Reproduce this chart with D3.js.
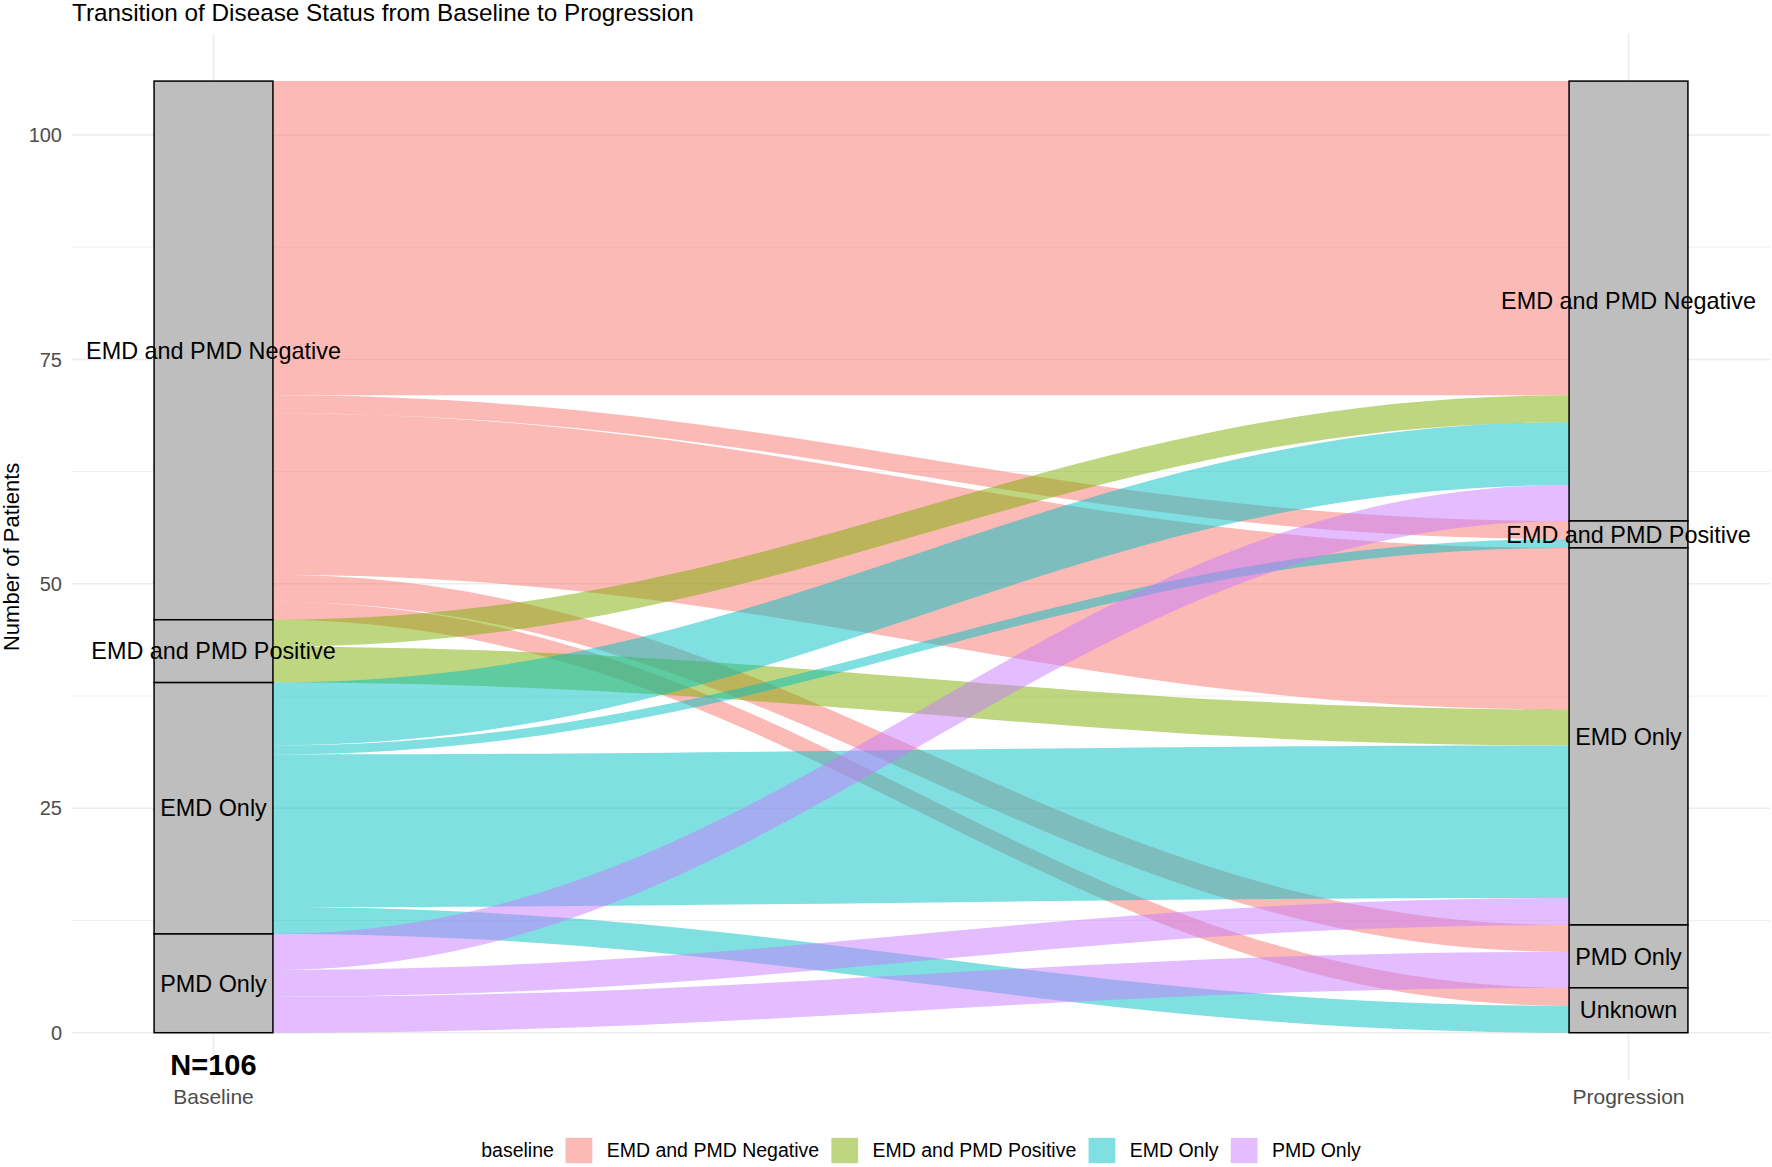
<!DOCTYPE html>
<html>
<head>
<meta charset="utf-8">
<script src="https://cdn.jsdelivr.net/npm/d3@7"></script>
<style>
  html, body { margin: 0; padding: 0; background: #fff; }
  svg { display: block; font-family: "Liberation Sans", Arial, sans-serif; }
</style>
</head>
<body>
<svg id="chart" width="1772" height="1167"></svg>
<script>
// ── Data ────────────────────────────────────────────────────────────────────
const axisNames = ['Baseline', 'Progression'];
const baselineLevels = ['EMD and PMD Negative', 'EMD and PMD Positive', 'EMD Only', 'PMD Only'];
const progressionLevels = ['EMD and PMD Negative', 'EMD and PMD Positive', 'EMD Only', 'PMD Only', 'Unknown'];

// one entry per (baseline -> progression) transition
const flowBaseline = [
  'EMD and PMD Negative', 'EMD and PMD Negative', 'EMD and PMD Negative', 'EMD and PMD Negative', 'EMD and PMD Negative',
  'EMD and PMD Positive', 'EMD and PMD Positive',
  'EMD Only', 'EMD Only', 'EMD Only', 'EMD Only',
  'PMD Only', 'PMD Only', 'PMD Only'
];
const flowProgression = [
  'EMD and PMD Negative', 'EMD and PMD Positive', 'EMD Only', 'PMD Only', 'Unknown',
  'EMD and PMD Negative', 'EMD Only',
  'EMD and PMD Negative', 'EMD and PMD Positive', 'EMD Only', 'Unknown',
  'EMD and PMD Negative', 'EMD Only', 'PMD Only'
];
const flowPatients = [35, 2, 18, 3, 2,  3, 4,  7, 1, 17, 3,  4, 3, 4];

const yTicks = [0, 25, 50, 75, 100];
const yMinorTicks = [12.5, 37.5, 62.5, 87.5];

const baselineColors = ['#F8766D', '#7CAE00', '#00BFC4', '#C77CFF'];

// ── Layout ──────────────────────────────────────────────────────────────────
const svg = d3.select('#chart');
const panel = { left: 72, right: 1770, top: 33.5, bottom: 1080.3 };

const total = d3.sum(flowPatients);
const pad = total * 0.05;

const x = d3.scalePoint().domain(axisNames).range([panel.left, panel.right]).padding(0.1);
const y = d3.scaleLinear().domain([-pad, total + pad]).range([panel.bottom, panel.top]);
const color = d3.scaleOrdinal().domain(baselineLevels).range(baselineColors);

const stratumW = x.step() * 0.084;

const flows = flowPatients.map((n, i) => ({ from: flowBaseline[i], to: flowProgression[i], n }));

// stack lodes inside each stratum (first level on top, ordered by the other axis)
function stackAxis(levels, key, otherKey, otherLevels) {
  let cursor = total;
  const strata = [];
  levels.forEach(level => {
    const top = cursor;
    flows.filter(f => f[key] === level)
      .sort((a, b) => otherLevels.indexOf(a[otherKey]) - otherLevels.indexOf(b[otherKey]))
      .forEach(f => {
        f[key + 'Top'] = cursor;
        cursor -= f.n;
        f[key + 'Bot'] = cursor;
      });
    strata.push({ level, top, bottom: cursor });
  });
  return strata;
}
const baseStrata = stackAxis(baselineLevels, 'from', 'to', progressionLevels);
const progStrata = stackAxis(progressionLevels, 'to', 'from', baselineLevels);

// ── Grid ────────────────────────────────────────────────────────────────────
const grid = svg.append('g');
grid.selectAll('line.minor').data(yMinorTicks).join('line')
  .attr('x1', panel.left).attr('x2', panel.right)
  .attr('y1', d => y(d)).attr('y2', d => y(d))
  .attr('stroke', '#EBEBEB').attr('stroke-width', 0.8);
grid.selectAll('line.major').data(yTicks).join('line')
  .attr('x1', panel.left).attr('x2', panel.right)
  .attr('y1', d => y(d)).attr('y2', d => y(d))
  .attr('stroke', '#EBEBEB').attr('stroke-width', 1.5);
grid.selectAll('line.vert').data(axisNames).join('line')
  .attr('x1', d => x(d)).attr('x2', d => x(d))
  .attr('y1', panel.top).attr('y2', panel.bottom)
  .attr('stroke', '#EBEBEB').attr('stroke-width', 1.5);

// ── Flows ───────────────────────────────────────────────────────────────────
const x0 = x('Baseline') + stratumW / 2;
const x1 = x('Progression') - stratumW / 2;

function flowPath(f) {
  const k = (x1 - x0) * 0.4;
  const p = d3.path();
  p.moveTo(x0, y(f.fromTop));
  p.bezierCurveTo(x0 + k, y(f.fromTop), x1 - k, y(f.toTop), x1, y(f.toTop));
  p.lineTo(x1, y(f.toBot));
  p.bezierCurveTo(x1 - k, y(f.toBot), x0 + k, y(f.fromBot), x0, y(f.fromBot));
  p.closePath();
  return p.toString();
}

svg.append('g')
  .selectAll('path')
  .data(flows)
  .join('path')
    .attr('d', flowPath)
    .attr('fill', d => color(d.from))
    .attr('fill-opacity', 0.5);

// ── Strata ──────────────────────────────────────────────────────────────────
const strataData = [
  ...baseStrata.map(s => ({ ...s, axis: 'Baseline' })),
  ...progStrata.map(s => ({ ...s, axis: 'Progression' }))
];

svg.append('g')
  .selectAll('rect')
  .data(strataData)
  .join('rect')
    .attr('x', d => x(d.axis) - stratumW / 2)
    .attr('y', d => y(d.top))
    .attr('width', stratumW)
    .attr('height', d => y(d.bottom) - y(d.top))
    .attr('fill', '#BEBEBE')
    .attr('stroke', '#000')
    .attr('stroke-width', 1.5);

svg.append('g')
  .selectAll('text')
  .data(strataData)
  .join('text')
    .attr('x', d => x(d.axis))
    .attr('y', d => y((d.top + d.bottom) / 2))
    .attr('dy', '0.35em')
    .attr('text-anchor', 'middle')
    .attr('font-size', '23.4px')
    .attr('fill', '#000')
    .text(d => d.level);

// ── Axes text ───────────────────────────────────────────────────────────────
svg.append('g')
  .selectAll('text')
  .data(yTicks)
  .join('text')
    .attr('x', 62)
    .attr('y', d => y(d))
    .attr('dy', '0.36em')
    .attr('text-anchor', 'end')
    .attr('font-size', '20px')
    .attr('fill', '#4D4D4D')
    .text(d => d);

svg.append('g')
  .selectAll('text')
  .data(axisNames)
  .join('text')
    .attr('x', d => x(d))
    .attr('y', 1104)
    .attr('text-anchor', 'middle')
    .attr('font-size', '21px')
    .attr('fill', '#4D4D4D')
    .text(d => d);

svg.append('text')
  .attr('x', x('Baseline'))
  .attr('y', 1075)
  .attr('text-anchor', 'middle')
  .attr('font-size', '29px')
  .attr('font-weight', 'bold')
  .attr('fill', '#000')
  .text(`N=${total}`);

svg.append('text')
  .attr('transform', `translate(18.5, ${(panel.top + panel.bottom) / 2}) rotate(-90)`)
  .attr('text-anchor', 'middle')
  .attr('font-size', '22px')
  .attr('fill', '#000')
  .text('Number of Patients');

svg.append('text')
  .attr('x', 72)
  .attr('y', 21)
  .attr('font-size', '24.3px')
  .attr('fill', '#000')
  .text('Transition of Disease Status from Baseline to Progression');

// ── Legend ──────────────────────────────────────────────────────────────────
const legend = svg.append('g');
const legendY = 1150.5;
const keyW = 26.7, keyH = 25.3;
let lx = 0;
const title = legend.append('text')
  .attr('x', lx).attr('y', legendY).attr('dy', '0.35em')
  .attr('font-size', '19.5px').attr('fill', '#000')
  .text('baseline');
lx += title.node().getComputedTextLength() + 11.7;
baselineLevels.forEach((lvl, i) => {
  legend.append('rect')
    .attr('x', lx).attr('y', legendY - keyH / 2)
    .attr('width', keyW).attr('height', keyH)
    .attr('fill', color(lvl)).attr('fill-opacity', 0.5);
  lx += keyW + 14.4;
  const t = legend.append('text')
    .attr('x', lx).attr('y', legendY).attr('dy', '0.35em')
    .attr('font-size', '19.5px').attr('fill', '#000')
    .text(lvl);
  lx += t.node().getComputedTextLength();
  if (i < baselineLevels.length - 1) lx += 12.3;
});
legend.attr('transform', `translate(${(panel.left + panel.right) / 2 - lx / 2}, 0)`);
</script>
</body>
</html>
